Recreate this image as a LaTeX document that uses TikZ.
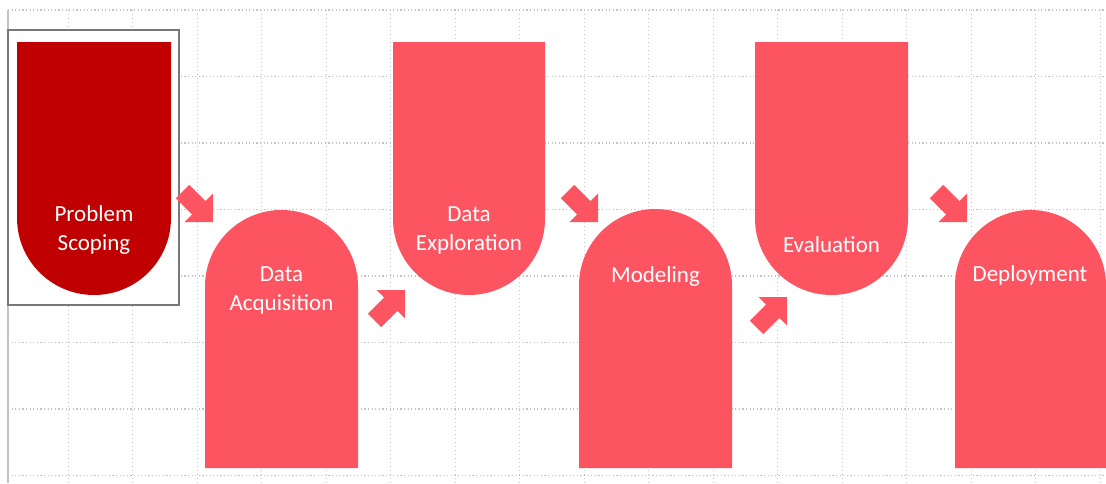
\documentclass[tikz,border=0pt]{standalone}
\usepackage{fontspec}
\setmainfont{Carlito}
\definecolor{darkred}{RGB}{192,0,0}
\definecolor{pinkred}{RGB}{253,84,98}
\definecolor{gridgray}{RGB}{195,195,195}
\definecolor{selgray}{RGB}{120,120,120}
\begin{document}
\begin{tikzpicture}[x=1pt,y=-1pt,
  gridline/.style={gridgray, line width=1.2pt, dash pattern=on 1.2pt off 2.4pt},
  stepshape/.style={fill=pinkred, draw=none},
  firstshape/.style={fill=darkred, draw=none},
  label/.style={text=white, font=\fontsize{23}{29}\selectfont, align=center, inner sep=0pt},
  blockarrow/.style={fill=pinkred, draw=none}
]
\useasboundingbox (0,0) rectangle (1106,483);
\fill[white] (0,0) rectangle (1106,483);
% grid
\foreach \yy in {10,76.5,143,209.5,276,342.5,409,475.5}
  \draw[gridline] (8,\yy) -- (1106,\yy);
\foreach \k in {0,...,16}
  \draw[gridline, line width=1pt, dash pattern=on 1pt off 3pt] ({68+64.5*\k},10) -- ({68+64.5*\k},483);
\draw[gridgray, line width=2pt] (8,10) -- (8,483);
% selection box
\draw[selgray, line width=1.5pt, fill=white] (8,30) rectangle (179,305);
% shapes
\fill[firstshape] (17,42) -- (171,42) -- (171,218) arc (0:180:77) -- cycle;
\fill[stepshape] (205,468) -- (205,286.5) arc (180:360:76.5) -- (358,468) -- cycle;
\fill[stepshape] (393,42) -- (545,42) -- (545,219) arc (0:180:76) -- cycle;
\fill[stepshape] (579,468) -- (579,285.5) arc (180:360:76.5) -- (732,468) -- cycle;
\fill[stepshape] (755,42) -- (908,42) -- (908,218.5) arc (0:180:76.5) -- cycle;
\fill[stepshape] (955,468) -- (955,285.5) arc (180:360:75.5) -- (1106,468) -- cycle;
% labels
\node[label] (ps) at (94,230) {Problem\\Scoping};
\node[label] (da) at (281.5,290) {Data\\Acquisition};
\node[label] (de) at (469,230) {Data\\Exploration};
\node[label] (mo) at (655.5,276) {Modeling};
\node[label] (ev) at (831.5,245) {Evaluation};
\node[label] (dp) at (1030,275) {Deployment};
% arrows (tips)
\coordinate (t1) at (213,222);
\coordinate (t2) at (405,290);
\coordinate (t3) at (598,222);
\coordinate (t4) at (787,297);
\coordinate (t5) at (967,222);
\foreach \t/\r in {t1/-45,t2/45,t3/-45,t4/45,t5/-45}
  \fill[blockarrow, shift={(\t)}, rotate=\r]
    (0,0) -- (-20,-20) -- (-20,-9.5) -- (-43,-9.5) -- (-43,9.5) -- (-20,9.5) -- (-20,20) -- cycle;
\end{tikzpicture}
\end{document}
